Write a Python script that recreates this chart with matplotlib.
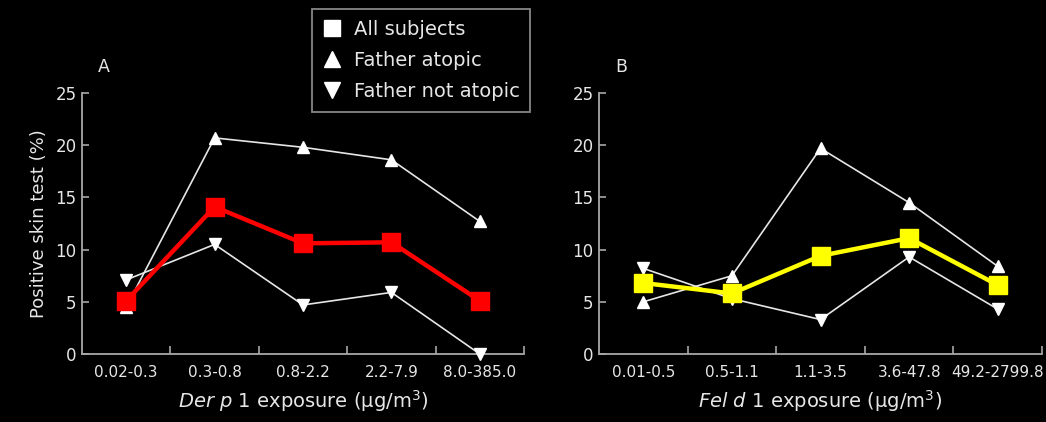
import matplotlib.pyplot as plt
from matplotlib.ticker import FixedLocator
from matplotlib.lines import Line2D

# Panel A - Der p 1
der_labels = ['0.02-0.3', '0.3-0.8', '0.8-2.2', '2.2-7.9', '8.0-385.0']
der_all = [5.1, 14.1, 10.6, 10.7, 5.1]
der_atopic = [4.5, 20.7, 19.8, 18.6, 12.7]
der_not_atopic = [7.1, 10.5, 4.7, 5.9, 0.0]

# Panel B - Fel d 1
fel_labels = ['0.01-0.5', '0.5-1.1', '1.1-3.5', '3.6-47.8', '49.2-2799.8']
fel_all = [6.8, 5.8, 9.4, 11.1, 6.6]
fel_atopic = [5.0, 7.5, 19.7, 14.5, 8.4]
fel_not_atopic = [8.2, 5.3, 3.3, 9.3, 4.3]

bg = 'black'
fg = '#e6e6e6'
axis_col = '#a8a8a8'

plt.rcParams['font.family'] = ['DejaVu Sans']

fig = plt.figure(figsize=(10.46, 4.22), dpi=100, facecolor=bg)
ax_a = fig.add_axes([0.0784, 0.1611, 0.4226, 0.6185])
ax_b = fig.add_axes([0.5727, 0.1611, 0.4235, 0.6185])


def draw_panel(ax, labels, all_vals, atopic, not_atopic, main_col, xlabel, letter):
    ax.set_facecolor(bg)
    x = list(range(len(labels)))
    ax.plot(x, atopic, color=fg, lw=1.2, marker='^', ms=9, mfc='white',
            mec='white', clip_on=False, zorder=3)
    ax.plot(x, not_atopic, color=fg, lw=1.2, marker='v', ms=9, mfc='white',
            mec='white', clip_on=False, zorder=3)
    ax.plot(x, all_vals, color=main_col, lw=3.2, marker='s', ms=13,
            mfc=main_col, mec=main_col, clip_on=False, zorder=4)

    ax.set_xlim(-0.5, len(labels) - 0.5)
    ax.set_ylim(0, 25)
    ax.set_yticks([0, 5, 10, 15, 20, 25])
    ax.set_xticks(x)
    ax.set_xticklabels(labels)
    ax.xaxis.set_minor_locator(FixedLocator([i + 0.5 for i in x]))
    ax.tick_params(axis='x', which='major', length=0, pad=8, labelsize=11, colors=fg)
    ax.tick_params(axis='x', which='minor', direction='in', length=6, width=1.2, color=axis_col)
    ax.tick_params(axis='y', direction='in', length=5, width=1.2, color=axis_col,
                   labelsize=12, labelcolor=fg, pad=4)
    for s in ['top', 'right']:
        ax.spines[s].set_visible(False)
    for s in ['left', 'bottom']:
        ax.spines[s].set_color(axis_col)
        ax.spines[s].set_linewidth(1.3)
    ax.set_xlabel(xlabel, fontsize=14, color=fg, labelpad=6)
    ax.text(0.05, 1.10, letter, transform=ax.transAxes, fontsize=12.5, color=fg,
            ha='center', va='center')


draw_panel(ax_a, der_labels, der_all, der_atopic, der_not_atopic, '#ff0000',
           r'$\it{Der\ p}$ 1 exposure (µg/m$^3$)', 'A')
draw_panel(ax_b, fel_labels, fel_all, fel_atopic, fel_not_atopic, '#ffff00',
           r'$\it{Fel\ d}$ 1 exposure (µg/m$^3$)', 'B')
ax_a.set_ylabel('Positive skin test (%)', fontsize=13, color=fg, labelpad=5)

handles = [
    Line2D([], [], ls='none', marker='s', ms=11, mfc='white', mec='white'),
    Line2D([], [], ls='none', marker='^', ms=11, mfc='white', mec='white'),
    Line2D([], [], ls='none', marker='v', ms=11, mfc='white', mec='white'),
]
leg = fig.legend(handles, ['All subjects', 'Father atopic', 'Father not atopic'],
                 loc='upper left', bbox_to_anchor=(312 / 1046, 1 - 9 / 422),
                 fontsize=14, frameon=True, fancybox=False, labelspacing=0.62,
                 handlelength=1.0, handletextpad=0.6, borderpad=0.55,
                 borderaxespad=0)
leg.get_frame().set_facecolor(bg)
leg.get_frame().set_edgecolor(axis_col)
leg.get_frame().set_linewidth(1.3)
for t in leg.get_texts():
    t.set_color(fg)

fig.savefig('out.png', dpi=100, facecolor=bg)
